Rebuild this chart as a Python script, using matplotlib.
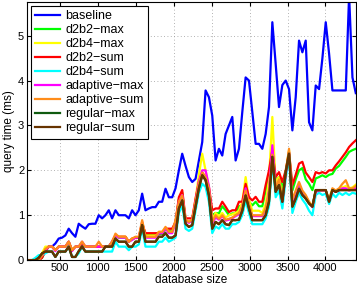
import matplotlib
matplotlib.use("Agg")
import matplotlib.pyplot as plt
import numpy as np

plt.rcParams['font.family'] = ['Liberation Sans', 'DejaVu Sans']

# database sizes (44 .. 4400)
db_size = np.arange(1, 101) * 44

baseline = [0, 0, 0, 0, 0.05, 0.1, 0.2, 0.3, 0.3, 0.37,
            0.48, 0.5, 0.55, 0.7, 0.6, 0.52, 0.81, 0.75, 0.7, 0.8,
            0.81, 0.81, 1.0, 0.93, 1.0, 1.11, 0.93, 1.11, 1.0, 1.0,
            1.0, 0.93, 1.11, 1.0, 1.11, 1.48, 1.11, 1.15, 1.18, 1.18,
            1.3, 1.3, 1.59, 1.4, 1.4, 1.6, 2.0, 2.37, 2.1, 1.85,
            1.74, 1.81, 2.22, 2.63, 3.78, 3.63, 3.22, 2.22, 2.48, 2.33,
            2.81, 3.0, 3.19, 2.22, 2.48, 3.3, 4.07, 4.0, 3.3, 2.59,
            2.59, 2.48, 2.81, 3.41, 5.3, 4.37, 3.41, 3.9, 4.0, 3.81,
            2.89, 3.63, 4.89, 4.63, 4.89, 3.07, 2.89, 3.89, 3.81, 4.5,
            5.3, 4.6, 3.78, 3.78, 3.78, 3.78, 3.78, 5.9, 4.07, 3.72]

d2b2_max = [0, 0, 0, 0, 0, 0.05, 0.2, 0.3, 0.3, 0.22,
            0.3, 0.3, 0.3, 0.41, 0.22, 0.3, 0.3, 0.35, 0.3, 0.3,
            0.3, 0.3, 0.3, 0.3, 0.3, 0.3, 0.41, 0.55, 0.5, 0.5,
            0.5, 0.41, 0.46, 0.5, 0.5, 0.8, 0.56, 0.56, 0.56, 0.56,
            0.58, 0.58, 0.68, 0.66, 0.66, 0.82, 1.35, 1.5, 0.88, 0.85,
            0.88, 1.3, 1.7, 1.9, 1.8, 1.55, 1.0, 1.05, 1.04, 1.2,
            1.11, 1.0, 1.04, 1.04, 1.2, 1.22, 1.62, 1.3, 1.22, 1.3,
            1.2, 1.2, 1.55, 1.9, 2.4, 1.75, 1.85, 1.6, 1.95, 2.4,
            1.55, 1.8, 2.0, 2.05, 1.8, 1.7, 1.56, 1.82, 1.85, 1.89,
            1.85, 1.9, 1.92, 2.04, 2.1, 2.2, 2.3, 2.41, 2.45, 2.48]

d2b4_max = [0, 0, 0, 0, 0.05, 0.15, 0.3, 0.3, 0.3, 0.22,
            0.3, 0.3, 0.3, 0.41, 0.22, 0.3, 0.3, 0.41, 0.3, 0.3,
            0.3, 0.3, 0.3, 0.3, 0.3, 0.3, 0.35, 0.55, 0.52, 0.52,
            0.52, 0.41, 0.48, 0.5, 0.5, 0.85, 0.55, 0.55, 0.55, 0.55,
            0.63, 0.63, 0.7, 0.63, 0.63, 0.85, 1.35, 1.5, 0.9, 0.85,
            0.9, 1.35, 1.9, 2.37, 2.0, 1.6, 0.9, 1.05, 0.98, 1.05,
            0.95, 1.0, 1.02, 1.05, 1.1, 1.3, 1.85, 1.35, 1.1, 1.1,
            1.1, 1.05, 1.25, 1.8, 3.19, 1.7, 1.85, 1.4, 1.95, 2.45,
            1.3, 1.5, 1.7, 1.5, 1.42, 1.3, 1.2, 1.55, 1.55, 1.55,
            1.55, 1.35, 1.58, 1.55, 1.58, 1.62, 1.65, 1.6, 1.62, 1.68]

d2b2_sum = [0, 0, 0, 0, 0, 0.05, 0.2, 0.3, 0.3, 0.22,
            0.3, 0.3, 0.3, 0.41, 0.22, 0.3, 0.3, 0.35, 0.3, 0.3,
            0.3, 0.3, 0.3, 0.3, 0.3, 0.3, 0.41, 0.55, 0.52, 0.52,
            0.52, 0.41, 0.48, 0.5, 0.5, 0.81, 0.6, 0.6, 0.6, 0.6,
            0.6, 0.6, 0.7, 0.7, 0.7, 0.85, 1.4, 1.56, 0.93, 0.93,
            0.93, 1.37, 1.75, 1.95, 1.85, 1.63, 1.11, 1.15, 1.15, 1.3,
            1.19, 1.07, 1.11, 1.11, 1.3, 1.3, 1.7, 1.4, 1.33, 1.41,
            1.3, 1.3, 1.67, 2.0, 2.45, 1.85, 1.96, 1.74, 2.0, 2.41,
            1.67, 1.9, 2.15, 2.19, 1.95, 1.85, 1.74, 1.96, 1.93, 1.96,
            1.93, 2.0, 2.0, 2.11, 2.2, 2.3, 2.4, 2.52, 2.6, 2.67]

d2b4_sum = [0, 0, 0, 0.05, 0.11, 0.11, 0.15, 0.19, 0.19, 0.07,
            0.19, 0.19, 0.19, 0.3, 0.07, 0.07, 0.15, 0.3, 0.19, 0.19,
            0.19, 0.19, 0.19, 0.19, 0.19, 0.19, 0.19, 0.41, 0.3, 0.3,
            0.3, 0.22, 0.3, 0.3, 0.35, 0.7, 0.3, 0.3, 0.3, 0.3,
            0.41, 0.41, 0.5, 0.41, 0.45, 0.5, 1.05, 1.22, 0.7, 0.65,
            0.7, 1.1, 1.5, 1.7, 1.63, 1.3, 0.6, 0.75, 0.7, 0.8,
            0.7, 0.7, 0.8, 0.8, 0.85, 1.0, 1.33, 1.05, 0.8, 0.8,
            0.8, 0.8, 0.93, 1.2, 2.2, 1.4, 1.55, 1.15, 1.8, 2.3,
            1.05, 1.3, 1.5, 1.35, 1.25, 1.1, 1.0, 1.45, 1.5, 1.45,
            1.48, 1.25, 1.48, 1.4, 1.5, 1.45, 1.5, 1.45, 1.5, 1.48]

adaptive_max = [0, 0, 0, 0, 0, 0.1, 0.22, 0.3, 0.3, 0.2,
                0.3, 0.3, 0.3, 0.41, 0.2, 0.3, 0.3, 0.41, 0.3, 0.3,
                0.3, 0.3, 0.3, 0.3, 0.3, 0.3, 0.41, 0.55, 0.5, 0.5,
                0.5, 0.41, 0.45, 0.5, 0.5, 0.85, 0.5, 0.5, 0.5, 0.5,
                0.6, 0.6, 0.7, 0.6, 0.6, 0.85, 1.3, 1.45, 0.88, 0.83,
                0.88, 1.3, 1.75, 2.0, 2.0, 1.65, 0.82, 0.95, 0.9, 0.98,
                0.88, 0.9, 0.93, 0.98, 1.02, 1.2, 1.6, 1.22, 0.98, 0.98,
                0.98, 0.98, 1.12, 1.55, 2.56, 1.6, 1.75, 1.3, 1.9, 2.4,
                1.3, 1.5, 1.7, 1.5, 1.42, 1.28, 1.18, 1.52, 1.55, 1.55,
                1.55, 1.32, 1.55, 1.52, 1.55, 1.6, 1.6, 1.55, 1.58, 1.6]

adaptive_sum = [0, 0, 0, 0, 0, 0.1, 0.25, 0.3, 0.3, 0.22,
                0.3, 0.3, 0.3, 0.41, 0.22, 0.3, 0.3, 0.41, 0.3, 0.3,
                0.3, 0.3, 0.41, 0.3, 0.3, 0.3, 0.41, 0.59, 0.52, 0.52,
                0.52, 0.41, 0.48, 0.52, 0.52, 0.89, 0.52, 0.52, 0.52, 0.52,
                0.63, 0.63, 0.74, 0.63, 0.63, 0.89, 1.3, 1.44, 0.9, 0.85,
                0.9, 1.3, 1.7, 1.95, 1.85, 1.6, 0.85, 1.0, 0.92, 1.0,
                0.9, 0.92, 0.95, 1.0, 1.05, 1.2, 1.55, 1.25, 1.0, 1.0,
                1.0, 1.0, 1.15, 1.5, 2.35, 1.6, 1.8, 1.35, 1.95, 2.48,
                1.35, 1.55, 1.74, 1.55, 1.45, 1.3, 1.2, 1.56, 1.56, 1.56,
                1.56, 1.35, 1.6, 1.55, 1.6, 1.7, 1.78, 1.6, 1.6, 1.65]

regular_max = [0, 0, 0, 0, 0.05, 0.15, 0.19, 0.19, 0.19, 0.07,
               0.19, 0.19, 0.19, 0.3, 0.07, 0.07, 0.2, 0.3, 0.19, 0.19,
               0.19, 0.19, 0.19, 0.19, 0.3, 0.3, 0.3, 0.48, 0.41, 0.41,
               0.41, 0.3, 0.3, 0.41, 0.41, 0.78, 0.41, 0.41, 0.41, 0.41,
               0.52, 0.52, 0.6, 0.5, 0.5, 0.55, 1.15, 1.33, 0.81, 0.74,
               0.78, 1.19, 1.6, 1.89, 1.78, 1.44, 0.7, 0.85, 0.8, 0.89,
               0.8, 0.78, 0.89, 0.89, 0.9, 1.1, 1.44, 1.15, 0.89, 0.89,
               0.89, 0.89, 1.0, 1.3, 2.3, 1.52, 1.67, 1.3, 1.95, 2.37,
               1.19, 1.37, 1.59, 1.45, 1.37, 1.26, 1.19, 1.56, 1.56, 1.56,
               1.56, 1.3, 1.56, 1.52, 1.56, 1.56, 1.56, 1.56, 1.56, 1.56]

regular_sum = [0, 0, 0, 0, 0.05, 0.15, 0.19, 0.19, 0.19, 0.07,
               0.19, 0.19, 0.19, 0.3, 0.07, 0.07, 0.2, 0.3, 0.19, 0.19,
               0.19, 0.19, 0.19, 0.19, 0.3, 0.3, 0.3, 0.48, 0.41, 0.41,
               0.41, 0.3, 0.3, 0.41, 0.41, 0.78, 0.41, 0.41, 0.41, 0.41,
               0.52, 0.52, 0.6, 0.5, 0.5, 0.55, 1.15, 1.33, 0.81, 0.74,
               0.78, 1.19, 1.6, 1.89, 1.78, 1.44, 0.7, 0.85, 0.8, 0.89,
               0.8, 0.78, 0.89, 0.89, 0.9, 1.1, 1.44, 1.15, 0.89, 0.89,
               0.89, 0.89, 1.0, 1.3, 2.3, 1.52, 1.67, 1.3, 1.95, 2.37,
               1.19, 1.37, 1.59, 1.45, 1.37, 1.26, 1.19, 1.56, 1.56, 1.56,
               1.56, 1.3, 1.56, 1.52, 1.56, 1.56, 1.56, 1.56, 1.56, 1.56]

series = [
    ("baseline", baseline, "#0000ff"),
    ("d2b2\u2212max", d2b2_max, "#00ff00"),
    ("d2b4\u2212max", d2b4_max, "#ffff00"),
    ("d2b2\u2212sum", d2b2_sum, "#ff0000"),
    ("d2b4\u2212sum", d2b4_sum, "#00ffff"),
    ("adaptive\u2212max", adaptive_max, "#ff00ff"),
    ("adaptive\u2212sum", adaptive_sum, "#ff8c1a"),
    ("regular\u2212max", regular_max, "#0f5a0f"),
    ("regular\u2212sum", regular_sum, "#663300"),
]

fig = plt.figure(figsize=(3.57, 2.89), dpi=100)
ax = fig.add_axes([0.0756, 0.100, 0.921, 0.893])

for name, vals, col in series:
    ax.plot(db_size, vals, color=col, lw=1.6, label=name)

ax.set_xlim(66, 4400)
ax.set_ylim(0, 5.75)
ax.set_xticks([500, 1000, 1500, 2000, 2500, 3000, 3500, 4000])
ax.set_yticks([0, 1, 2, 3, 4, 5])
ax.tick_params(direction='in', length=3, labelsize=8, top=True, right=True, pad=2)
ax.grid(True, linestyle=(0, (1, 3)), color='#999999', lw=0.6)
ax.set_axisbelow(True)
ax.set_xlabel("database size", fontsize=8.5, labelpad=1)
ax.set_ylabel("query time (ms)", fontsize=8.5, labelpad=2)

leg = ax.legend(loc='upper left', fontsize=9, handlelength=2.0, labelspacing=0.16,
                borderpad=0.35, handletextpad=0.4, borderaxespad=0.3, fancybox=False,
                framealpha=1)
leg.get_frame().set_edgecolor('black')
leg.get_frame().set_linewidth(0.8)

fig.savefig("out.png", dpi=100)
